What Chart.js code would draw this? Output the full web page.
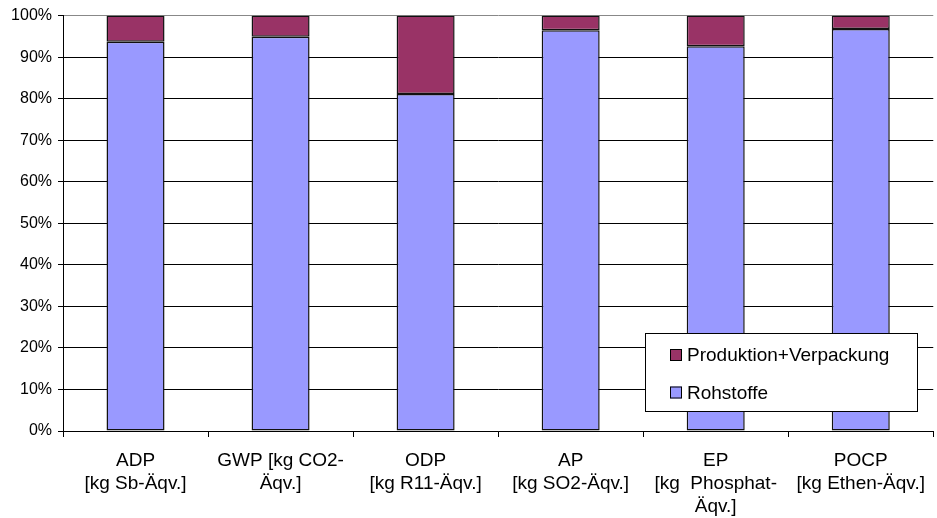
<!DOCTYPE html>
<html>
<head>
<meta charset="utf-8">
<script src="https://cdn.jsdelivr.net/npm/chart.js@4.4.1/dist/chart.umd.min.js"></script>
<style>
  html, body { margin: 0; padding: 0; background: #fff; }
  #wrap { width: 937px; height: 518px; }
</style>
</head>
<body>
<div id="wrap"><canvas id="chart"></canvas></div>
<script>
"use strict";

const categories = [
    ["ADP", "[kg Sb-Äqv.]"],
    ["GWP [kg CO2-", "Äqv.]"],
    ["ODP", "[kg R11-Äqv.]"],
    ["AP", "[kg SO2-Äqv.]"],
    ["EP", "[kg  Phosphat-", "Äqv.]"],
    ["POCP", "[kg Ethen-Äqv.]"]
];
const rohstoffe = [93.7, 94.9, 81.1, 96.5, 92.6, 96.8];
const produktion = [6.3, 5.1, 18.9, 3.5, 7.4, 3.2];
const yTicks = [0, 10, 20, 30, 40, 50, 60, 70, 80, 90, 100];

const FONT = "'Liberation Sans', Arial, sans-serif";

// legend box drawn inside the plot, lower right
const boxLegend = {
    id: "boxLegend",
    afterDraw(chart) {
        const c = chart.ctx;
        const x = 645, y = 333, w = 272, h = 78;
        c.save();
        c.fillStyle = "#fff";
        c.fillRect(x, y, w, h);
        c.strokeStyle = "#000";
        c.lineWidth = 1;
        c.strokeRect(x + 0.5, y + 0.5, w, h);
        const items = [chart.data.datasets[1], chart.data.datasets[0]];
        c.font = "19px " + FONT;
        c.textBaseline = "middle";
        items.forEach(function (ds, i) {
            const cy = y + 22 + i * 37.5;
            c.fillStyle = ds.backgroundColor;
            c.fillRect(x + 25, cy - 6, 12, 12);
            c.strokeStyle = "#000";
            c.strokeRect(x + 25.5, cy - 5.5, 11, 11);
            c.fillStyle = "#000";
            c.fillText(ds.label, x + 42, cy + 1);
        });
        c.restore();
    }
};

const ctx = document.getElementById("chart");
new Chart(ctx, {
    type: "bar",
    data: {
        labels: categories,
        datasets: [{
            label: "Rohstoffe",
            data: rohstoffe,
            backgroundColor: "#9999FF",
            borderColor: "#111",
            borderWidth: 1.5,
            borderSkipped: false,
            barPercentage: 0.4,
            categoryPercentage: 1
        }, {
            label: "Produktion+Verpackung",
            data: produktion,
            backgroundColor: "#993366",
            borderColor: "#111",
            borderWidth: 1.5,
            borderSkipped: false,
            barPercentage: 0.4,
            categoryPercentage: 1
        }]
    },
    options: {
        responsive: true,
        maintainAspectRatio: false,
        animation: false,
        layout: { padding: { top: 13, right: 0, left: 0, bottom: 0 } },
        plugins: {
            legend: { display: false },
            tooltip: { enabled: false }
        },
        scales: {
            x: {
                stacked: true,
                offset: true,
                border: { color: "#000", width: 1 },
                grid: {
                    offset: true,
                    drawOnChartArea: false,
                    drawTicks: true,
                    tickLength: 6,
                    color: "#000"
                },
                ticks: {
                    color: "#000",
                    padding: 12,
                    maxRotation: 0,
                    autoSkip: false,
                    font: { family: FONT, size: 19, lineHeight: 1.22 }
                },
                afterFit(scale) { scale.height = 87; }
            },
            y: {
                stacked: true,
                min: 0,
                max: 100,
                border: { color: "#000", width: 1 },
                afterBuildTicks(scale) {
                    scale.ticks = yTicks.map(function (v) { return { value: v }; });
                },
                grid: {
                    color: function (c) { return c.tick && c.tick.value === 100 ? "#888" : "#000"; },
                    tickLength: 5,
                    tickColor: "#000"
                },
                ticks: {
                    color: "#000",
                    padding: 6,
                    font: { family: FONT, size: 16 },
                    callback: function (v) { return v + "%"; }
                },
                afterFit(scale) { scale.width = 63; }
            }
        }
    },
    plugins: [boxLegend]
});
</script>
</body>
</html>
